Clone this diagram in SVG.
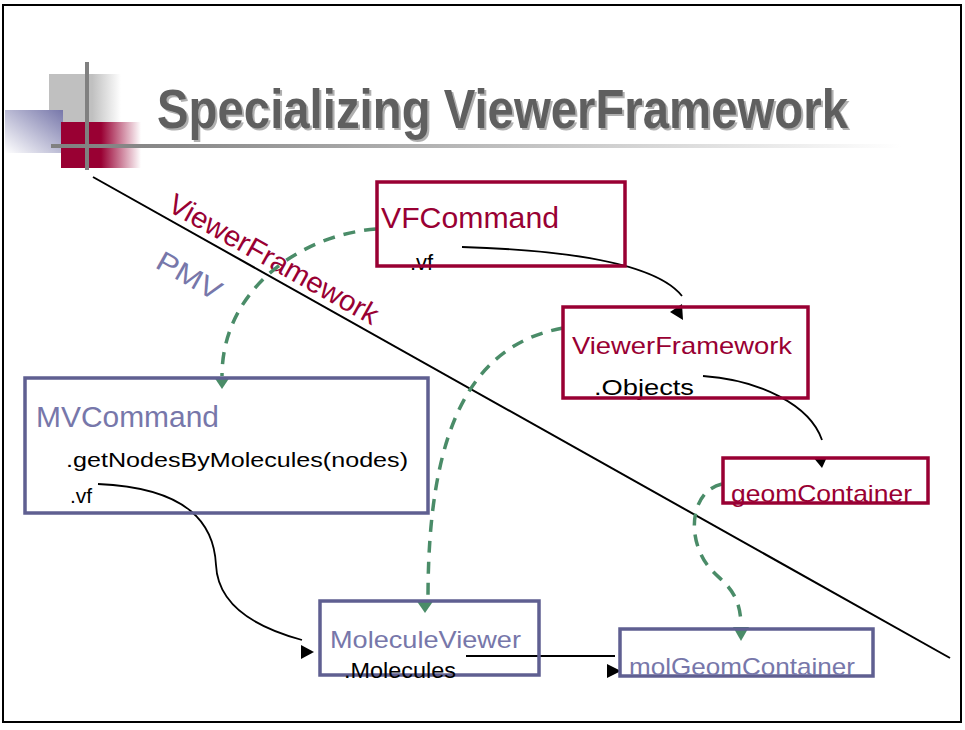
<svg xmlns="http://www.w3.org/2000/svg" width="965" height="730" viewBox="0 0 965 730">
<defs>
<linearGradient id="grayFade" x1="0" x2="1" y1="0" y2="0">
<stop offset="0" stop-color="#c0c0c0"/><stop offset="0.6" stop-color="#c0c0c0"/><stop offset="1" stop-color="#ffffff"/>
</linearGradient>
<linearGradient id="redFade" x1="0" x2="1" y1="0" y2="0">
<stop offset="0" stop-color="#990033"/><stop offset="0.5" stop-color="#990033"/><stop offset="1" stop-color="#ffffff"/>
</linearGradient>
<linearGradient id="blueFade" x1="1" y1="0" x2="0" y2="1">
<stop offset="0" stop-color="#7777aa"/><stop offset="1" stop-color="#ffffff"/>
</linearGradient>
<linearGradient id="barFade" x1="0" x2="1" y1="0" y2="0">
<stop offset="0" stop-color="#808080"/><stop offset="0.15" stop-color="#8a8a8a"/><stop offset="1" stop-color="#ffffff"/>
</linearGradient>
<filter id="shadow" x="-5%" y="-20%" width="110%" height="140%">
<feOffset in="SourceAlpha" dx="2" dy="2" result="off"/>
<feFlood flood-color="#b0b0b0"/>
<feComposite in2="off" operator="in" result="sh"/>
<feMerge><feMergeNode in="sh"/><feMergeNode in="SourceGraphic"/></feMerge>
</filter>
<style>
.red{fill:none;stroke:#990033;stroke-width:3.5}
.blu{fill:none;stroke:#5f5f91;stroke-width:3.5}
.tr{fill:#990033;font-family:"Liberation Sans",Arial,sans-serif}
.tb{fill:#7777aa;font-family:"Liberation Sans",Arial,sans-serif}
.tk{fill:#000;font-family:"Liberation Sans",Arial,sans-serif}
.blk{fill:none;stroke:#000;stroke-width:1.8}
.grn{fill:none;stroke:#4a8c68;stroke-width:3.5;stroke-dasharray:12 9}
.ga{fill:#4a8c68}
.ka{fill:#000}
</style>
</defs>
<rect x="0" y="0" width="965" height="730" fill="#fff"/>
<rect x="3" y="5" width="958" height="717" fill="none" stroke="#000" stroke-width="2"/>
<g id="logo">
<rect x="49" y="74" width="72" height="50" fill="url(#grayFade)"/>
<rect x="5" y="110" width="58" height="43" fill="url(#blueFade)"/>
<rect x="61" y="122" width="80" height="46" fill="url(#redFade)"/>
<line x1="87" y1="62" x2="87" y2="170" stroke="#808080" stroke-width="4"/>
<rect x="51" y="144" width="850" height="4" fill="url(#barFade)"/>
</g>
<g id="title">
<text x="157" y="128" font-family="'Liberation Sans',Arial,sans-serif" font-weight="bold" font-size="55" fill="#5f5f5f" textLength="691" lengthAdjust="spacingAndGlyphs" filter="url(#shadow)">Specializing ViewerFramework</text>
</g>
<g id="divider">
<line x1="93" y1="177" x2="950" y2="658" stroke="#000" stroke-width="2"/>
<text class="tr" font-size="29" transform="translate(166,210) rotate(29.3)" textLength="236" lengthAdjust="spacingAndGlyphs">ViewerFramework</text>
<text class="tb" font-size="28" transform="translate(154,267) rotate(29.3)" textLength="70" lengthAdjust="spacingAndGlyphs">PMV</text>
</g>
<g id="connectors">
<path class="blk" d="M462,247 C560,250 655,262 682,296"/>
<polygon class="ka" points="670,312 682,304 683,320"/>
<path class="blk" d="M703,376 C760,380 810,405 822,440"/>
<polygon class="ka" points="813,457 827,457 822,468"/>
<path class="blk" d="M98,484 C190,488 214,525 216,565 C218,610 265,630 302,640"/>
<polygon class="ka" points="301,645 301,659 314,652"/>
<path class="blk" d="M466,656 L615,656"/>
<polygon class="ka" points="607,664 607,678 621,671"/>
<path class="grn" d="M376,229 C300,235 222,290 222,376"/>
<polygon class="ga" points="214,377 230,377 222,389"/>
<path class="grn" d="M563,328 C470,345 428,430 428,598"/>
<polygon class="ga" points="416,600 434,600 425,613"/>
<path class="grn" d="M722,484 C695,490 688,525 700,552 C712,582 740,580 741,625"/>
<polygon class="ga" points="733,627 749,627 741,641"/>
</g>
<g id="VFCommand">
<text class="tr" x="381" y="228" font-size="29" textLength="178" lengthAdjust="spacingAndGlyphs">VFCommand</text>
<text class="tk" x="410" y="270" font-size="22">.vf</text>
<rect class="red" x="377" y="182" width="248" height="84"/>
</g>
<g id="ViewerFramework">
<text class="tr" x="572" y="354" font-size="24" textLength="220" lengthAdjust="spacingAndGlyphs">ViewerFramework</text>
<text class="tk" x="594" y="395" font-size="22" textLength="100" lengthAdjust="spacingAndGlyphs">.Objects</text>
<rect class="red" x="563" y="307" width="245" height="91"/>
</g>
<g id="geomContainer">
<rect class="red" x="723" y="458" width="205" height="45"/>
<text class="tr" x="731" y="502" font-size="24" textLength="181" lengthAdjust="spacingAndGlyphs">geomContainer</text>
</g>
<g id="MVCommand">
<rect class="blu" x="25" y="378" width="403" height="135"/>
<text class="tb" x="36" y="427" font-size="29" textLength="183" lengthAdjust="spacingAndGlyphs">MVCommand</text>
<text class="tk" x="66" y="467" font-size="21" textLength="342" lengthAdjust="spacingAndGlyphs">.getNodesByMolecules(nodes)</text>
<text class="tk" x="70" y="503" font-size="21">.vf</text>
</g>
<g id="MoleculeViewer">
<rect class="blu" x="320" y="601" width="219" height="74"/>
<text class="tb" x="330" y="648" font-size="24" textLength="191" lengthAdjust="spacingAndGlyphs">MoleculeViewer</text>
<text class="tk" x="344" y="678" font-size="22" textLength="112" lengthAdjust="spacingAndGlyphs">.Molecules</text>
</g>
<g id="molGeomContainer">
<rect class="blu" x="620" y="629" width="253" height="47"/>
<text class="tb" x="629" y="675" font-size="24" textLength="226" lengthAdjust="spacingAndGlyphs">molGeomContainer</text>
</g>
</svg>
